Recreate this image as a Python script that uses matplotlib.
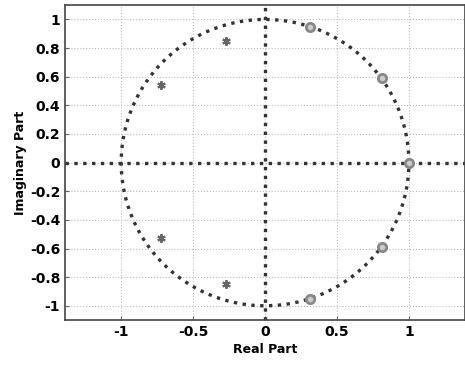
import matplotlib.pyplot as plt
import numpy as np

# zeros (o) and poles (*)
zero_re = [1.0, 0.81, 0.31, 0.31, 0.81]
zero_im = [0.0, 0.59, 0.95, -0.95, -0.59]
pole_re = [-0.27, -0.72, -0.72, -0.27]
pole_im = [0.85, 0.54, -0.53, -0.85]

xticks = [-1, -0.5, 0, 0.5, 1]
yticks = [-1, -0.8, -0.6, -0.4, -0.2, 0, 0.2, 0.4, 0.6, 0.8, 1]

fig = plt.figure(figsize=(4.65, 3.65), dpi=100)
ax = fig.add_axes([0.14, 0.123, 0.86, 0.863])

t = np.linspace(0, 2*np.pi, 400)
ax.plot(np.cos(t), np.sin(t), ':', color='#333333', lw=2.4)
ax.axhline(0, ls=':', color='#333333', lw=2.4)
ax.axvline(0, ls=':', color='#333333', lw=2.4)

ax.plot(zero_re, zero_im, 'o', mfc='#cccccc', mec='#888888', mew=2, ms=6)
ax.plot(pole_re, pole_im, ls='none', marker=(6, 2, 0), color='#666666', mew=1.5, ms=6)

ax.set_xlim(-1.39, 1.39)
ax.set_ylim(-1.1, 1.1)
ax.set_xticks(xticks)
ax.set_xticklabels(['-1', '-0.5', '0', '0.5', '1'])
ax.set_yticks(yticks)
ax.set_yticklabels(['-1', '-0.8', '-0.6', '-0.4', '-0.2', '0', '0.2', '0.4', '0.6', '0.8', '1'])
ax.grid(True, ls=':', color='#bbbbbb', lw=0.8)
ax.tick_params(labelsize=10, direction='in', length=3, color='#666666')
for lab in ax.get_xticklabels() + ax.get_yticklabels():
    lab.set_fontweight('bold')
ax.set_xlabel('Real Part', fontsize=9, fontweight='bold', labelpad=3)
ax.set_ylabel('Imaginary Part', fontsize=9, fontweight='bold', labelpad=2)
for s in ax.spines.values():
    s.set_color('#444444')
    s.set_linewidth(1.2)

fig.savefig('out.png', dpi=100)
